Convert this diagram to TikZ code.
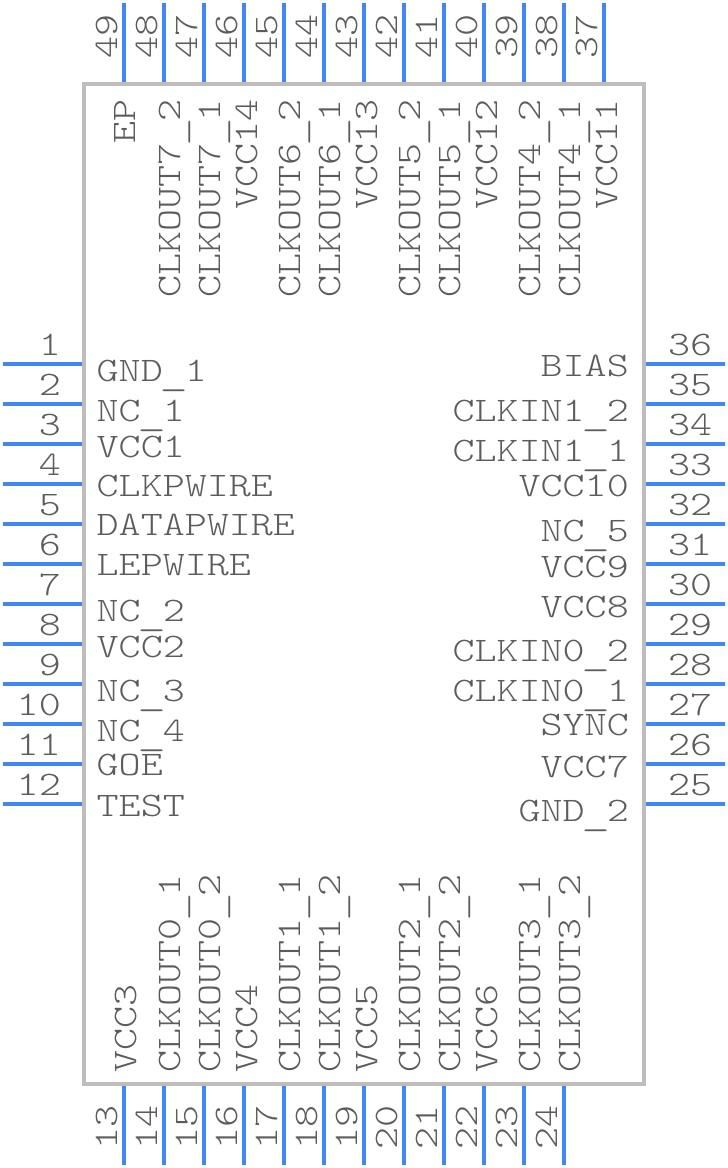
\documentclass[tikz,border=0pt]{standalone}
\usepackage{fontspec}
\setmonofont[FakeStretch=1.22]{Latin Modern Mono Light}
\definecolor{pinblue}{HTML}{4285F4}
\definecolor{bodygray}{HTML}{BDBDBD}
\definecolor{textgray}{HTML}{5C5C5C}
\newcommand{\pinbar}{\makebox[22pt][c]{\raisebox{-4pt}{\scalebox{1.3}[1]{\_}}}}

\begin{document}
\begin{tikzpicture}[
            x = 1pt,
            y = -1pt,
            pinline/.style = {draw = pinblue, line width = 4pt},
            pinnum/.style = {text = textgray, inner sep = 0pt, font = \ttfamily\fontsize{34.4}{36}\selectfont},
            pinname/.style = {pinnum},
            body/.style = {draw = bodygray, line width = 4pt, fill = white, minimum width = 560pt, minimum height = 1000pt, inner sep = 0pt}
        ]

        \useasboundingbox (0,0) rectangle (728,1168);

        \node[body] (ic) at (364,584) {};

        % left and right pins
        \foreach \i in {1,...,12} {
            \pgfmathsetmacro{\ypin}{324+40*\i}
            \pgfmathtruncatemacro{\j}{37-\i}
            \coordinate (a\i) at (3,\ypin);
            \coordinate (b\i) at (82,\ypin);
            \coordinate (a\j) at (725,\ypin);
            \coordinate (b\j) at (646,\ypin);
            \path[pinline] (a\i) -- (b\i);
            \path[pinline] (a\j) -- (b\j);
            \node[pinnum, anchor=base east] (n\i) at (61,\ypin-9) {\i};
            \node[pinnum, anchor=base west] (n\j) at (668,\ypin-9) {\j};
        }

        % top and bottom pins
        \foreach \i in {0,...,11} {
            \pgfmathsetmacro{\xpin}{124+40*\i}
            \pgfmathtruncatemacro{\j}{13+\i}
            \pgfmathtruncatemacro{\k}{49-\i}
            \coordinate (a\j) at (\xpin,1165);
            \coordinate (b\j) at (\xpin,1086);
            \coordinate (a\k) at (\xpin,3);
            \coordinate (b\k) at (\xpin,82);
            \path[pinline] (a\j) -- (b\j);
            \path[pinline] (a\k) -- (b\k);
            \node[pinnum, rotate=90, anchor=base west] (n\j) at (\xpin-7,1150) {\j};
            \node[pinnum, rotate=90, anchor=base east] (n\k) at (\xpin-7,14) {\k};
        }
        \coordinate (a37) at (604,3);
        \coordinate (b37) at (604,82);
        \path[pinline] (a37) -- (b37);
        \node[pinnum, rotate=90, anchor=base east] (n37) at (597,14) {37};

        % names on the left
        \foreach \name/\ybase [count=\i] in {GND\pinbar1/381,NC\pinbar1/421,VCC1/457,CLKPWIRE/496,DATAPWIRE/535,LEPWIRE/575,NC\pinbar2/621,VCC2/657,NC\pinbar3/701,NC\pinbar4/741,GOE/775,TEST/816}
            \node[pinname, anchor=base west] (l\i) at (96.5,\ybase) {\name};

        % names on the right
        \foreach \name/\ybase [count=\i] in {BIAS/376,CLKIN1\pinbar2/421,CLKIN1\pinbar1/461,VCC10/496,NC\pinbar5/541,VCC9/577,VCC8/617,CLKIN0\pinbar2/661,CLKIN0\pinbar1/701,SYNC/735,VCC7/777,GND\pinbar2/821}
            \node[pinname, anchor=base east] (r\i) at (629,\ybase) {\name};

        % names along the top
        \foreach \name/\xbase [count=\i] in {EP/135,CLKOUT7\pinbar2/180,CLKOUT7\pinbar1/220,VCC14/257,CLKOUT6\pinbar2/300,CLKOUT6\pinbar1/340,VCC13/377,CLKOUT5\pinbar2/420,CLKOUT5\pinbar1/460,VCC12/497,CLKOUT4\pinbar2/540,CLKOUT4\pinbar1/580,VCC11/617}
            \node[pinname, rotate=90, anchor=base east] (t\i) at (\xbase,99) {\name};

        % names along the bottom
        \foreach \name/\xbase [count=\i] in {VCC3/136,CLKOUT0\pinbar1/180,CLKOUT0\pinbar2/220,VCC4/257,CLKOUT1\pinbar1/300,CLKOUT1\pinbar2/340,VCC5/377,CLKOUT2\pinbar1/420,CLKOUT2\pinbar2/460,VCC6/497,CLKOUT3\pinbar1/540,CLKOUT3\pinbar2/580}
            \node[pinname, rotate=90, anchor=base west] (u\i) at (\xbase,1073) {\name};

\end{tikzpicture}
\end{document}
